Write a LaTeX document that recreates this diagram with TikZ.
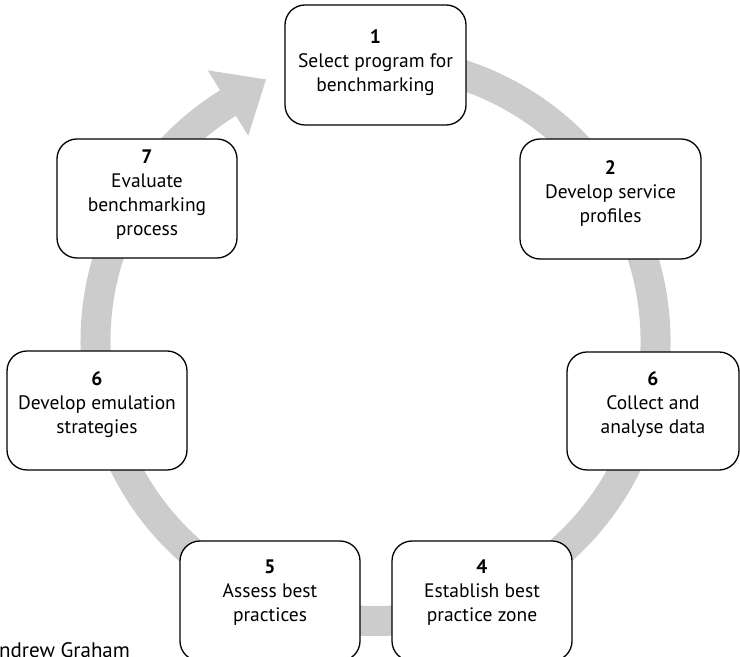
\documentclass[tikz,border=0pt]{standalone}
\usepackage{fontspec}
\setmainfont{PT Sans}
\usetikzlibrary{arrows.meta,calc}
\definecolor{ringgray}{RGB}{204,204,204}
\tikzset{
  stagebox/.style={draw=black, line width=1.3bp, fill=white, rounded corners=20bp, inner sep=0pt},
  stagetext/.style={align=center, inner sep=0pt, font=\fontsize{19.5bp}{24bp}\selectfont},
  ring/.style={draw=ringgray, line width=30bp},
}
\begin{document}
\begin{tikzpicture}[x=1bp, y=1bp]
\useasboundingbox (0,0) rectangle (740,657);
\clip (0,0) rectangle (740,657);
\coordinate (c) at (375.5,316);
% ring with arrow
\draw[ring, -{Triangle[length=45bp, width=74bp]}, ringgray]
  ($(c)+(100:280)$) arc[start angle=100, end angle=-238.2, radius=280] -- ++(31.8:45);
% boxes
\node[stagebox, minimum width=181bp, minimum height=120bp] (b1) at (375.5,592) {};
\node[stagebox, minimum width=181bp, minimum height=120bp] (b2) at (610.5,458) {};
\node[stagebox, minimum width=180bp, minimum height=119bp] (b7) at (147,458.5) {};
\node[stagebox, minimum width=180bp, minimum height=119bp] (b6l) at (97,246.5) {};
\node[stagebox, minimum width=172bp, minimum height=118bp] (b6r) at (653,246) {};
\node[stagebox, minimum width=180bp, minimum height=120bp] (b5) at (270,56) {};
\node[stagebox, minimum width=180bp, minimum height=120bp] (b4) at (482,56) {};
% texts
\node[stagetext] (t1) at (375.5,594) {\textbf{1}\\Select program for\\benchmarking};
\node[stagetext] (t2) at (610.5,464) {\textbf{2}\\Develop service\\profiles};
\node[stagetext] (t7) at (147,462) {\textbf{7}\\Evaluate\\benchmarking\\process};
\node[stagetext] (t6l) at (97,252) {\textbf{6}\\Develop emulation\\strategies};
\node[stagetext] (t6r) at (653,252) {\textbf{6}\\Collect and\\analyse data};
\node[stagetext] (t5) at (270,64) {\textbf{5}\\Assess best\\practices};
\node[stagetext] (t4) at (482,64) {\textbf{4}\\Establish best\\practice zone};
\node[anchor=base west, inner sep=0pt, font=\fontsize{21bp}{24bp}\selectfont] (author) at (-1,-1) {ndrew Graham};
\end{tikzpicture}
\end{document}
